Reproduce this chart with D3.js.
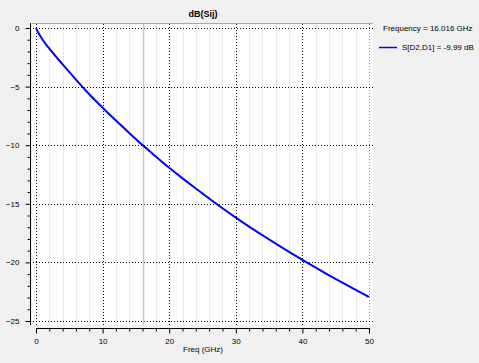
<!DOCTYPE html>
<html><head><meta charset="utf-8">
<script src="https://cdn.jsdelivr.net/npm/d3@7"></script>
<style>
html,body{margin:0;padding:0;background:#f0f0f0;}
text{font-family:"Liberation Sans",Arial,sans-serif;fill:#000;}
</style></head>
<body>
<svg id="c" width="479" height="363"></svg>
<script>
const freq = [0,0.5,1,1.5,2,3,4,6,8,10,12,14,16,18,20,22,24,26,28,30,32,34,36,38,40,42,44,46,48,50];
const s21  = [0,-0.55,-1.0,-1.4,-1.75,-2.45,-3.1,-4.4,-5.65,-6.8,-7.9,-8.95,-9.99,-10.97,-11.93,-12.83,-13.7,-14.55,-15.38,-16.18,-16.95,-17.68,-18.4,-19.1,-19.78,-20.45,-21.1,-21.73,-22.35,-22.95];
const xTicks = [0,10,20,30,40,50];
const yTicks = [0,-5,-10,-15,-20,-25];
const markerFreq = 16.016;
const title = "dB(Sij)";
const xTitle = "Freq (GHz)";
const legendHeader = "Frequency = 16.016 GHz";
const legendLabel = "S[D2,D1] = -9.99 dB";

const svg = d3.select("#c");
const x = d3.scaleLinear().domain([0,50]).range([36,369]);
const y = d3.scaleLinear().domain([0,-25]).range([28,321]);

// plot background
svg.append("rect").attr("x",32).attr("y",23).attr("width",341).attr("height",302).attr("fill","#fff");
svg.append("line").attr("x1",32).attr("x2",373).attr("y1",23.5).attr("y2",23.5).attr("stroke","#a8a8a8");

// minor vertical grid
const minorX = d3.range(0,51,2).filter(d=>d%10!==0);
svg.append("g").selectAll("line").data(minorX).join("line")
  .attr("x1",d=>Math.round(x(d))+0.5).attr("x2",d=>Math.round(x(d))+0.5)
  .attr("y1",24).attr("y2",325).attr("stroke","#d4d4d4").attr("stroke-dasharray","1,1");
// major vertical grid
svg.append("g").selectAll("line").data(xTicks).join("line")
  .attr("x1",d=>Math.round(x(d))+0.5).attr("x2",d=>Math.round(x(d))+0.5)
  .attr("y1",24).attr("y2",325).attr("stroke",d=>d===50?"#909090":"#000").attr("stroke-dasharray","1,2");
// major horizontal grid
svg.append("g").selectAll("line").data(yTicks).join("line")
  .attr("y1",d=>Math.round(y(d))+0.5).attr("y2",d=>Math.round(y(d))+0.5)
  .attr("x1",33).attr("x2",373).attr("stroke","#000").attr("stroke-dasharray","1,2");

// marker
svg.append("line").attr("x1",Math.round(x(markerFreq))+0.5).attr("x2",Math.round(x(markerFreq))+0.5).attr("y1",24).attr("y2",325)
  .attr("stroke","#c8c8c8").attr("stroke-width",1.5);

// y axis
const yAxis = d3.axisLeft(y).tickValues(yTicks).tickSize(5).tickPadding(6).tickFormat(d3.format("d"));
const gy = svg.append("g").attr("transform","translate(30.5,0)").call(yAxis);
gy.select(".domain").attr("d","M0,23V325").attr("stroke","#000");
gy.selectAll("text").style("font-size","8px").style("font-family","Liberation Sans, Arial, sans-serif");
const gym = svg.append("g").attr("transform","translate(30.5,0)")
  .call(d3.axisLeft(y).tickValues(d3.range(0,-26,-1).filter(d=>d%5!==0)).tickSize(3).tickFormat(""));
gym.select(".domain").remove();

// x axis
const xAxis = d3.axisBottom(x).tickValues(xTicks).tickSize(5).tickPadding(5).tickFormat(d3.format("d"));
const gx = svg.append("g").attr("transform","translate(0,328.5)").call(xAxis);
gx.select(".domain").attr("d","M"+x(0)+",0H"+(x(50)+1)).attr("stroke","#000");
gx.selectAll("text").style("font-size","8px").style("font-family","Liberation Sans, Arial, sans-serif");
const gxm = svg.append("g").attr("transform","translate(0,328.5)")
  .call(d3.axisBottom(x).tickValues(minorX).tickSize(3).tickFormat(""));
gxm.select(".domain").remove();

// curve
const line = d3.line().x((d,i)=>x(freq[i])).y(d=>y(d)).curve(d3.curveNatural);
svg.append("path").datum(s21).attr("d",line).attr("fill","none").attr("stroke","#0000ff").attr("stroke-width",2);

// titles
svg.append("text").attr("x",203).attr("y",17).attr("text-anchor","middle")
  .style("font-size","9px").style("font-weight","bold").text(title);
svg.append("text").attr("x",203).attr("y",352).attr("text-anchor","middle")
  .style("font-size","8px").text(xTitle);

// legend
svg.append("text").attr("x",383).attr("y",31).style("font-size","8px").text(legendHeader);
svg.append("line").attr("x1",379).attr("x2",397).attr("y1",47.5).attr("y2",47.5).attr("stroke","#0000ff").attr("stroke-width",1.5);
svg.append("text").attr("x",402).attr("y",50).style("font-size","8px").text(legendLabel);
</script>
</body></html>
